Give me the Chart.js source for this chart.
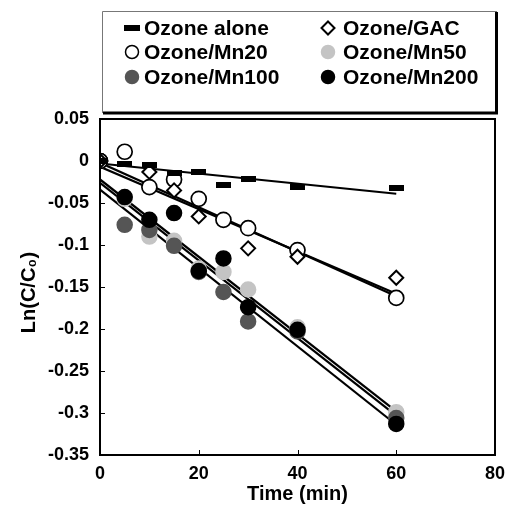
<!DOCTYPE html>
<html lang="en">
<head>
  <meta charset="UTF-8" />
  <title>Ln(C/C0) vs time</title>
  <script src="https://cdn.jsdelivr.net/npm/chart.js"></script>
  <style>
    body { margin: 0; background: #fff; }
    #wrap { width: 516px; height: 522px; }
  </style>
</head>
<body>
  <div id="wrap"><canvas id="kinetics"></canvas></div>

  <script>
    // sampling times (min)
    const times = [0, 5, 10, 15, 20, 25, 30, 40, 60];

    // Ln(C/C0)
    const ozoneAlone = [0, -0.004, -0.005, -0.014, -0.013, -0.028, -0.022, -0.031, -0.032];
    const ozoneGac   = [0, null, -0.013, -0.035, -0.066, null, -0.104, -0.114, -0.139];
    const ozoneMn20  = [0, 0.011, -0.031, -0.022, -0.045, -0.070, -0.080, -0.106, -0.163];
    const ozoneMn50  = [0, -0.045, -0.090, -0.095, -0.128, -0.132, -0.153, -0.198, -0.299];
    const ozoneMn100 = [0, -0.076, -0.082, -0.101, -0.132, -0.156, -0.191, -0.203, -0.306];
    const ozoneMn200 = [0, -0.043, -0.070, -0.062, -0.131, -0.116, -0.174, -0.201, -0.313];

    // linear fits drawn in the figure: value at t=0 and at t=60
    const fitTimes   = [0, 60];
    const fitAlone   = [-0.003, -0.039];
    const fitGac     = [-0.007, -0.158];
    const fitMn20    = [-0.002, -0.161];
    const fitMn50    = [-0.022, -0.298];
    const fitMn100   = [-0.034, -0.314];
    const fitMn200   = [-0.026, -0.303];

    const xTicks = [0, 20, 40, 60, 80];
    const yTicks = [0.05, 0, -0.05, -0.1, -0.15, -0.2, -0.25, -0.3, -0.35];

    const toPts = (xs, ys) => xs.map((x, i) => ({ x: x, y: ys[i] })).filter(p => p.y !== null);

    // flat bar marker for "Ozone alone"
    const bar = document.createElement('canvas');
    bar.width = 15; bar.height = 6;
    const bctx = bar.getContext('2d');
    bctx.fillStyle = '#000';
    bctx.fillRect(0, 0, 15, 6);

    const FONT = '"Liberation Sans", Arial, sans-serif';

    function points(label, data, style) {
      return Object.assign({
        label: label,
        data: data,
        showLine: false,
        pointRadius: 7.5,
        pointBorderWidth: 1.5,
        pointBorderColor: '#000',
        pointBackgroundColor: '#000',
        order: 1
      }, style);
    }
    function fit(data, width) {
      return {
        label: '_fit',
        data: data,
        showLine: true,
        borderColor: '#000',
        borderWidth: width,
        pointRadius: 0,
        fill: false,
        order: 2
      };
    }

    const series = [
      points('Ozone alone', toPts(times, ozoneAlone), { pointStyle: bar }),
      points('Ozone/GAC', toPts(times, ozoneGac), { pointStyle: 'rectRot', pointRadius: 7, pointBackgroundColor: '#fff', pointBorderWidth: 2 }),
      points('Ozone/Mn20', toPts(times, ozoneMn20), { pointStyle: 'circle', pointBackgroundColor: '#fff', pointBorderWidth: 1.7 }),
      points('Ozone/Mn50', toPts(times, ozoneMn50), { pointStyle: 'circle', pointBackgroundColor: '#c4c4c4', pointBorderColor: '#c4c4c4' }),
      points('Ozone/Mn100', toPts(times, ozoneMn100), { pointStyle: 'circle', pointBackgroundColor: '#555', pointBorderColor: '#555' }),
      points('Ozone/Mn200', toPts(times, ozoneMn200), { pointStyle: 'circle' })
    ];
    // draw order: light greys under the black ones
    series[3].order = 1.6;
    series[4].order = 1.4;

    const fits = [
      fit(toPts(fitTimes, fitAlone), 1.8),
      fit(toPts(fitTimes, fitGac), 2.2),
      fit(toPts(fitTimes, fitMn20), 2.2),
      fit(toPts(fitTimes, fitMn50), 2.2),
      fit(toPts(fitTimes, fitMn100), 2.2),
      fit(toPts(fitTimes, fitMn200), 2.2)
    ];

    // boxed two-column legend above the plot
    const boxLegend = {
      id: 'boxLegend',
      afterDraw(chart) {
        const c = chart.ctx;
        c.save();
        c.strokeStyle = '#777';
        c.lineWidth = 1;
        c.beginPath();
        c.moveTo(102.5, 113); c.lineTo(102.5, 11.5); c.lineTo(497, 11.5);
        c.stroke();
        c.strokeStyle = '#000';
        c.lineWidth = 3;
        c.beginPath();
        c.moveTo(496.5, 12); c.lineTo(496.5, 113); c.lineTo(103, 113);
        c.stroke();

        const cols = [{ mx: 132, tx: 144 }, { mx: 328, tx: 343 }];
        const rows = [28, 52, 77];
        c.font = 'bold 21px ' + FONT;
        c.textBaseline = 'middle';
        c.fillStyle = '#000';
        series.forEach((ds, i) => {
          const col = cols[i % 2], y = rows[Math.floor(i / 2)];
          const r = 6.5;
          if (ds.pointStyle === bar) {
            c.fillStyle = '#000';
            c.fillRect(col.mx - 8, y - 3, 16, 6);
          } else if (ds.pointStyle === 'rectRot') {
            c.strokeStyle = '#000'; c.lineWidth = 2;
            c.beginPath();
            c.moveTo(col.mx, y - r); c.lineTo(col.mx + r, y); c.lineTo(col.mx, y + r); c.lineTo(col.mx - r, y);
            c.closePath(); c.stroke();
          } else {
            c.fillStyle = ds.pointBackgroundColor;
            c.strokeStyle = ds.pointBorderColor; c.lineWidth = 1.5;
            c.beginPath(); c.arc(col.mx, y, r, 0, Math.PI * 2);
            c.fill(); c.stroke();
          }
          c.fillStyle = '#000';
          c.fillText(ds.label, col.tx, y + 1);
        });
        c.restore();
      }
    };

    // plot frame with short inward ticks
    const frame = {
      id: 'frame',
      afterDatasetsDraw(chart) {
        const { ctx: c, chartArea: a, scales } = chart;
        c.save();
        c.strokeStyle = '#000';
        c.lineWidth = 2;
        c.strokeRect(a.left, a.top, a.right - a.left, a.bottom - a.top);
        c.lineWidth = 1;
        c.beginPath();
        yTicks.forEach(v => {
          const y = Math.round(scales.y.getPixelForValue(v)) + 0.5;
          c.moveTo(a.left, y); c.lineTo(a.left + 5, y);
        });
        xTicks.forEach(v => {
          const x = Math.round(scales.x.getPixelForValue(v)) + 0.5;
          c.moveTo(x, a.bottom); c.lineTo(x, a.bottom - 5);
        });
        c.stroke();
        c.restore();
      }
    };

    new Chart(document.getElementById('kinetics'), {
      type: 'scatter',
      data: { datasets: series.concat(fits) },
      plugins: [boxLegend, frame],
      options: {
        responsive: true,
        maintainAspectRatio: false,
        animation: false,
        layout: { padding: { top: 119, right: 21, left: 0, bottom: 16 } },
        plugins: {
          legend: { display: false },
          tooltip: { enabled: false }
        },
        scales: {
          x: {
            type: 'linear',
            min: 0, max: 80,
            afterBuildTicks: s => { s.ticks = xTicks.map(v => ({ value: v })); },
            afterFit: s => { s.height = 51; },
            grid: { display: false, drawTicks: false },
            border: { display: false },
            ticks: { color: '#000', padding: 8, font: { family: FONT, size: 18, weight: 'bold' } },
            title: {
              display: true, text: 'Time (min)', color: '#000', padding: { top: 0, bottom: 0 },
              font: { family: FONT, size: 20, weight: 'bold' }
            }
          },
          y: {
            min: -0.35, max: 0.05,
            afterBuildTicks: s => { s.ticks = yTicks.map(v => ({ value: v })); },
            afterFit: s => { s.width = 100; },
            grid: { display: false, drawTicks: false },
            border: { display: false },
            ticks: {
              color: '#000', padding: 11,
              font: { family: FONT, size: 18, weight: 'bold' },
              callback: v => String(Number(v.toFixed(2)))
            },
            title: {
              display: true, text: 'Ln(C/C\u2080)  ', color: '#000', padding: { top: 17, bottom: 0 },
              font: { family: FONT, size: 20, weight: 'bold' }
            }
          }
        }
      }
    });
  </script>
</body>
</html>
